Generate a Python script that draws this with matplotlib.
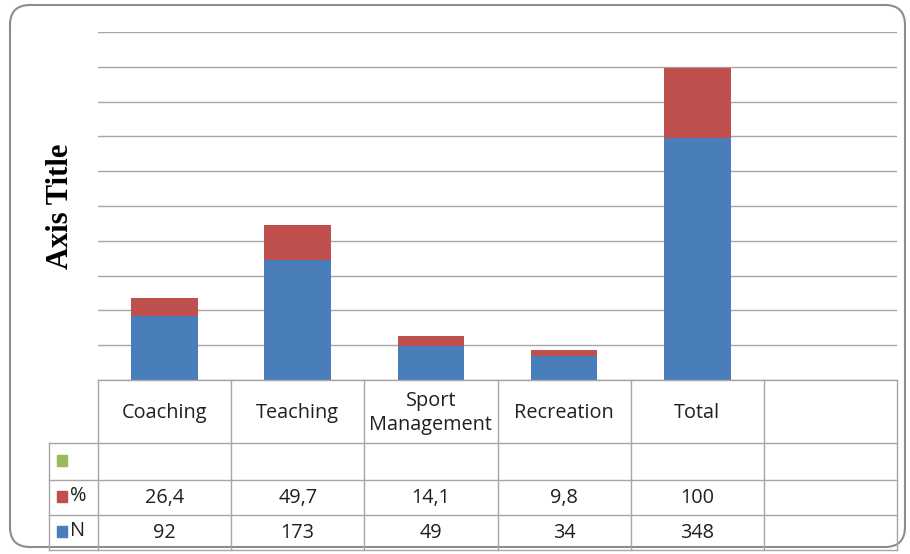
import numpy as np
import matplotlib.pyplot as plt
from matplotlib.patches import FancyBboxPatch, Rectangle

# data
cats = ['Coaching', 'Teaching', 'Sport\nManagement', 'Recreation', 'Total', '']
n_vals = [92, 173, 49, 34, 348]
pct_vals = [26.4, 49.7, 14.1, 9.8, 100]
pct_labels = ['26,4', '49,7', '14,1', '9,8', '100']

blue = '#4a7ebb'
red = '#c0504d'
green = '#9bbb59'
grid_c = '#a6a6a6'
txt_c = '#202020'
fs = 14.3

plt.rcParams['font.family'] = ['Open Sans', 'DejaVu Sans']

W, H = 910, 554
fig = plt.figure(figsize=(W / 100, H / 100), dpi=100)

# rounded frame
frame = FancyBboxPatch((10 / W, 7 / H), 895 / W, 542 / H,
                       boxstyle='round,pad=0,rounding_size=0.022',
                       transform=fig.transFigure, fc='none', ec='#8c8c8c', lw=1.5,
                       mutation_aspect=W / H, zorder=-1)
fig.patches.append(frame)

# main plot area
ax = fig.add_axes([98 / W, 1 - 380 / H, 799 / W, 348 / H])
x = np.arange(len(n_vals)) + 0.5
ax.bar(x, n_vals, width=0.5, color=blue, zorder=3)
ax.bar(x, pct_vals, width=0.5, bottom=n_vals, color=red, zorder=3)
ax.set_xlim(0, len(cats))
ax.set_ylim(0, 500)
ax.set_yticks(np.arange(0, 501, 50))
ax.yaxis.grid(True, color=grid_c, lw=1, zorder=0)
ax.set_xticks([])
ax.tick_params(left=False, labelleft=False)
for s in ax.spines.values():
    s.set_visible(False)
ax.patch.set_alpha(0)

fig.text(61 / W, 1 - 206 / H, 'Axis Title', rotation=90, ha='center', va='center',
         fontsize=22, fontweight='bold', family='Liberation Serif', color='black')

# data table
tx = fig.add_axes([49 / W, 1 - 550 / H, 848 / W, 170 / H])
lab_w = 49 / (799 / len(cats))
tx.set_xlim(-lab_w, len(cats))
tx.set_ylim(170, 0)
tx.axis('off')
rows = [0, 63, 100, 135, 170]
# horizontal lines
tx.plot([0, len(cats)], [rows[0]] * 2, color=grid_c, lw=1, clip_on=False)
for r in rows[1:]:
    tx.plot([-lab_w, len(cats)], [r, r], color=grid_c, lw=1, clip_on=False)
# vertical lines
tx.plot([-lab_w, -lab_w], [rows[1], rows[-1]], color=grid_c, lw=1, clip_on=False)
for i in range(len(cats) + 1):
    tx.plot([i, i], [rows[0], rows[-1]], color=grid_c, lw=1, clip_on=False)

for i, c in enumerate(cats):
    tx.text(i + 0.5, 33, c, ha='center', va='center', fontsize=fs, color=txt_c,
            linespacing=1.3)
for i in range(len(n_vals)):
    tx.text(i + 0.5, 118, pct_labels[i], ha='center', va='center', fontsize=fs, color=txt_c)
    tx.text(i + 0.5, 153, str(n_vals[i]), ha='center', va='center', fontsize=fs, color=txt_c)

# legend keys
sq_w = 10 / (799 / len(cats))
key_x = -lab_w + 8 / (799 / len(cats))
for yc, col, lab in [(81, green, ''), (117, red, '%'), (152, blue, 'N')]:
    tx.add_patch(Rectangle((key_x, yc - 6), sq_w, 11, color=col, clip_on=False))
    tx.text(key_x + sq_w + 0.02, yc - 1, lab, ha='left', va='center', fontsize=fs, color=txt_c)

fig.savefig('out.png', dpi=100)
